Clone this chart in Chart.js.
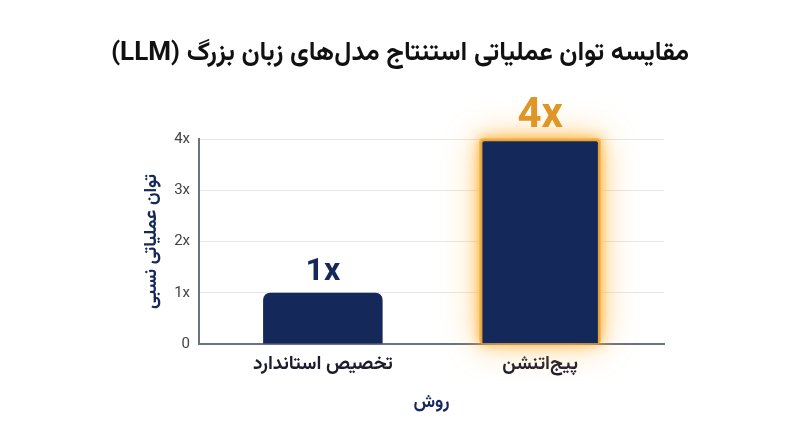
<!DOCTYPE html>
<html lang="fa">
<head>
<meta charset="utf-8">
<script src="https://cdn.jsdelivr.net/npm/chart.js@4.4.1/dist/chart.umd.min.js"></script>
<style>
  html,body{margin:0;padding:0;background:#fff;}
  #wrap{width:800px;height:447px;}
</style>
</head>
<body>
<div id="wrap"><canvas id="c" dir="rtl" width="800" height="447"></canvas></div>
<script>
const chartTitle = 'مقایسه توان عملیاتی استنتاج مدل‌های زبان بزرگ (LLM)';
const categories = ['تخصیص استاندارد', 'پیج‌اتنشن'];
const categoryPositions = [0, 1];
const throughput = [1, 4];
const yTicks = [0, 1, 2, 3, 4];
const yTitle = 'توان عملیاتی نسبی';
const xTitle = 'روش';

const FA = "'Vazirmatn','DejaVu Sans','Noto Sans',sans-serif";
const NAVY = '#14285a';
const ORANGE = '#df9626';

const glowPlugin = {
  id: 'glow',
  beforeDatasetsDraw(chart) {
    const meta = chart.getDatasetMeta(0);
    const el = meta.data[1];
    if (!el) return;
    const {x, y, base, width} = el.getProps(['x','y','base','width'], true);
    const ctx = chart.ctx;
    ctx.save();
    ctx.fillStyle = '#f5b957';
    ctx.beginPath();
    ctx.roundRect(x - width/2 - 1, y - 1, width + 2, base - y + 1, 4);
    ctx.shadowColor = 'rgba(255,185,70,0.75)';
    ctx.shadowBlur = 34;
    ctx.fill();
    ctx.shadowColor = 'rgba(255,170,40,0.9)';
    ctx.shadowBlur = 12;
    ctx.fill();
    ctx.restore();
  },
  afterDatasetsDraw(chart) {
    const meta = chart.getDatasetMeta(0);
    const ctx = chart.ctx;
    ctx.save();
    ctx.textAlign = 'center';
    ctx.textBaseline = 'middle';
    meta.data.forEach((el, i) => {
      const big = i === 1;
      ctx.font = (big ? 'bold 42px ' : 'bold 32px ') + "Roboto, 'DejaVu Sans', sans-serif";
      ctx.fillStyle = big ? ORANGE : NAVY;
      ctx.fillText(throughput[i] + 'x', el.x, el.y - (big ? 23 : 21));
    });
    ctx.restore();
  }
};

new Chart(document.getElementById('c'), {
  type: 'bar',
  data: {
    datasets: [{
      data: categoryPositions.map((p, i) => ({x: p, y: throughput[i]})),
      backgroundColor: NAVY,
      borderColor: ['rgba(0,0,0,0)', '#e6a23c'],
      borderWidth: [0, 2],
      borderRadius: [{topLeft: 7, topRight: 7}, 4],
      borderSkipped: 'bottom',
      barPercentage: 0.55,
      categoryPercentage: 1
    }]
  },
  options: {
    responsive: false,
    animation: false,
    events: [],
    layout: {padding: {left: 0, right: 0, top: 0, bottom: 22}},
    plugins: {
      legend: {display: false},
      tooltip: {enabled: false},
      title: {
        display: true,
        text: chartTitle,
        color: '#111',
        font: {family: FA, size: 26, weight: 'bold'},
        padding: {top: 40, bottom: 68}
      }
    },
    scales: {
      x: {
        type: 'linear',
        offset: false,
        min: -0.57,
        max: 1.57,
        afterBuildTicks: s => { s.ticks = categoryPositions.map(v => ({value: v})); },
        afterFit: s => { s.height = 81; },
        grid: {display: false, drawTicks: false},
        border: {display: true, color: '#6b7280', width: 2},
        ticks: {
          padding: 11,
          color: '#1c1c2a',
          font: {family: FA, size: 19, weight: 'bold'},
          callback: v => categories[categoryPositions.indexOf(v)] ?? ''
        },
        title: {
          display: true,
          text: xTitle,
          color: NAVY,
          font: {family: FA, size: 18, weight: 'bold'},
          padding: {top: 0, bottom: 10}
        }
      },
      y: {
        min: 0,
        max: 4,
        afterBuildTicks: s => { s.ticks = yTicks.map(v => ({value: v})); },
        afterFit: s => { s.width = 199; },
        grid: {color: '#e6e6e6', lineWidth: 1, drawTicks: false},
        border: {display: true, color: '#6b7280', width: 2},
        ticks: {
          padding: 9,
          color: '#444',
          font: {family: 'Roboto, sans-serif', size: 15},
          callback: v => v === 0 ? '0' : v + 'x'
        },
        title: {
          display: true,
          text: yTitle,
          color: NAVY,
          font: {family: FA, size: 18, weight: 'bold'},
          padding: {top: 142, bottom: 0}
        }
      },
      yRight: {
        position: 'right',
        min: 0,
        max: 4,
        afterFit: s => { s.width = 136; },
        grid: {display: false, drawTicks: false},
        border: {display: false},
        ticks: {display: false}
      }
    }
  },
  plugins: [glowPlugin]
});
</script>
</body>
</html>
